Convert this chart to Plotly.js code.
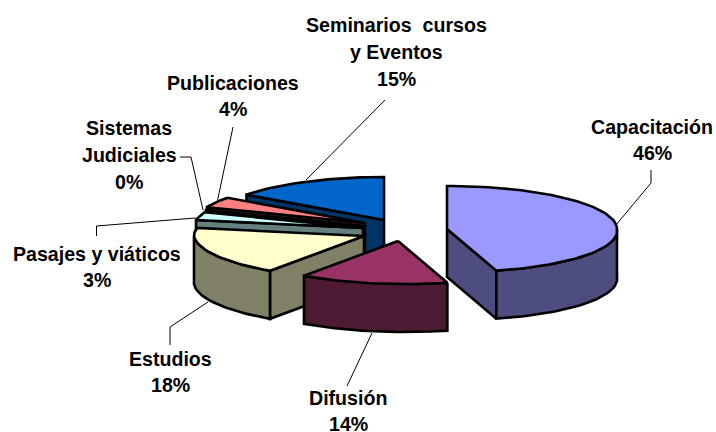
<!DOCTYPE html>
<html><head><meta charset="utf-8">
<script src="https://cdn.plot.ly/plotly-3.0.1.min.js"></script>
<style>html,body{margin:0;padding:0;background:#fff}</style></head>
<body><div id="c" style="width:716px;height:432px"></div>
<script>
const categories=["Capacitación","Difusión","Estudios","Pasajes y viáticos","Sistemas Judiciales","Publicaciones","Seminarios cursos y Eventos"];
const values=[46,14,18,3,0,4,15];
const topColors=["#9999FF","#993366","#FFFFCC","#CCFFFF","#660066","#FF8080","#0066CC"];
const sideColors=["#4D4D80","#4D1A33","#808066","#668080","#330033","#804040","#003366"];
const apexX=[447,398,364,363,364,365,384];
const apexY=[229,241,236,228,226,223,220];
const rx=170, ry=43, depth=48, frontShear=0.17;
const total=values.reduce((a,b)=>a+b,0);
const rad=d=>d*Math.PI/180;
const traces=[];
function poly(xs,ys,fill){
  traces.push({type:"scatter",mode:"lines",x:[...xs,xs[0]],y:[...ys,ys[0]],fill:"toself",fillcolor:fill,
    line:{color:"#000",width:2.6,shape:"linear"},hoverinfo:"skip",showlegend:false});
}
function rim(cx,cy,a){
  const dy=-ry*Math.cos(rad(a));
  return [cx+rx*Math.sin(rad(a))+frontShear*Math.max(0,dy),cy+dy];
}
function arc(cx,cy,a0,a1){
  const n=Math.max(1,Math.ceil(Math.abs(a1-a0)/2)),xs=[],ys=[];
  for(let i=0;i<=n;i++){const p=rim(cx,cy,a0+(a1-a0)*i/n);xs.push(p[0]);ys.push(p[1]);}
  return [xs,ys];
}
let acc=0;
const slices=values.map((v,i)=>{const s={i,a0:acc/total*360,a1:(acc+v)/total*360};acc+=v;return s;});
const order=[6,5,4,3,2,1,0];
order.forEach(k=>{
  const s=slices[k],cx=apexX[k],cy=apexY[k];
  function radial(a){
    const [px,py]=rim(cx,cy,a);
    poly([cx,px,px,cx],[cy,py,py+depth,cy+depth],sideColors[k]);
  }
  if(Math.sin(rad(s.a1))>0.001) radial(s.a1);
  if(Math.sin(rad(s.a0))<-0.001) radial(s.a0);
  const w0=Math.max(s.a0,90),w1=Math.min(s.a1,270);
  if(w1>w0){
    const [ax,ay]=arc(cx,cy,w0,w1);
    poly([...ax,...ax.slice().reverse()],[...ay,...ay.slice().reverse().map(y=>y+depth)],sideColors[k]);
  }
  const [tx,ty]=arc(cx,cy,s.a0,s.a1);
  poly([cx,...tx],[cy,...ty],topColors[k]);
});
const labelLines=[["Capacitación","46%"],["Difusión","14%"],["Estudios","18%"],["Pasajes y viáticos","3%"],["Sistemas","Judiciales","0%"],["Publicaciones","4%"],["Seminarios  cursos","y Eventos","15%"]];
const labelX=[652,348,170,97,129,233,396];
const labelY=[140,411,372,267,155,96,52];
const lineGap=26.8;
const annotations=[];
labelLines.forEach((ls,i)=>ls.forEach((t,j)=>annotations.push({x:labelX[i],y:labelY[i]+(j-(ls.length-1)/2)*lineGap,xref:"x",yref:"y",
  text:"<b>"+t+"</b>",showarrow:false,xanchor:"center",yanchor:"middle",font:{family:"Liberation Sans, Arial, sans-serif",size:19.6,color:"#000"}})));
const leaderX=[[651,651,616],[347,372],[170,170,208],[96.5,96.5,195],[180,191,203],[233,217],[385,306]];
const leaderY=[[170,183,225],[386,333],[345,327,302],[236,226,218],[157,157,210],[127,203],[100,180]];
leaderX.forEach((xs,i)=>traces.push({type:"scatter",mode:"lines",x:xs,y:leaderY[i],line:{color:"#000",width:1},hoverinfo:"skip",showlegend:false}));
const ax={visible:false,fixedrange:true};
Plotly.newPlot("c",traces,{width:716,height:432,margin:{l:0,r:0,t:0,b:0},paper_bgcolor:"#fff",plot_bgcolor:"#fff",
  xaxis:{...ax,range:[0,716]},yaxis:{...ax,range:[432,0]},annotations,showlegend:false},{displayModeBar:false,staticPlot:true});
</script></body></html>
